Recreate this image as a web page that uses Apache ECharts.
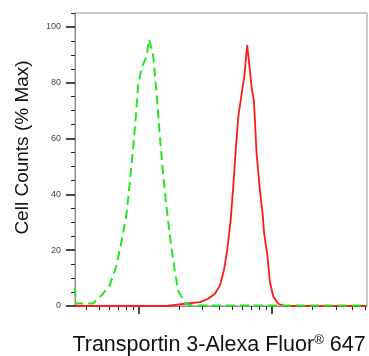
<!DOCTYPE html>
<html>
<head>
<meta charset="utf-8">
<script src="https://cdn.jsdelivr.net/npm/echarts@6/dist/echarts.min.js"></script>
<style>
  html, body { margin: 0; padding: 0; background: #fff; }
  #chart { width: 369px; height: 356px; }
</style>
</head>
<body>
<div id="chart"></div>
<script>
// fluorescence intensity (log scale) vs % of max
const xMin = 33;
const xMax = 5150;
const xMajorTicks = [100, 1000];
const xMinorTicks = [40, 50, 60, 70, 80, 90, 200, 300, 400, 500, 600, 700, 800, 900, 2000, 3000, 4000, 5000];
const yMajorTicks = [0, 20, 40, 60, 80, 100];
const yMinorTicks = [5, 10, 15, 25, 30, 35, 45, 50, 55, 65, 70, 75, 85, 90, 95, 105];

// isotype control (green dashed)
const controlData = [
  [33, 6.5], [33.5, 0.9], [39, 0.9], [45, 0.9], [53.6, 4.4], [60.2, 7.5], [67.6, 14.5],
  [73.7, 23], [80.4, 33], [85.1, 44], [90.1, 56.5], [94.4, 67.5], [98.3, 79], [104.2, 85],
  [113.7, 89.5], [118.9, 95.5], [121.8, 96], [127.4, 90], [135.1, 76.5], [143.1, 61],
  [151.5, 47.3], [160.7, 35.3], [172.2, 23.4], [185.5, 12.5], [196.4, 5.5], [220.7, 1.1],
  [247.7, 0.2], [5150, 0.2]
];

// Transportin 3 stained (red solid)
const stainedData = [
  [33, 0], [160.7, 0], [220.7, 0.8], [286, 1.4], [330, 2.6], [371, 4.4], [404.5, 7.3],
  [433, 12.7], [459, 19.9], [487, 30.6], [509, 42.5], [533.5, 56.8], [555, 67.5],
  [589, 76], [616, 82], [648.6, 93.5], [680, 84.3], [700, 78.3], [728.5, 73.5],
  [763, 54.5], [808, 41.5], [847, 33], [870, 25.8], [917, 18.7], [961, 8.5],
  [1017, 3.5], [1110, 0.8], [1246, 0], [5150, 0]
];

const chart = echarts.init(document.getElementById('chart'), null, { renderer: 'canvas' });

const fontFamily = '"Liberation Sans", Arial, sans-serif';

const option = {
  backgroundColor: '#fff',
  animation: false,
  grid: {
    left: 75, right: 2, top: 13, bottom: 50,
    show: true, borderColor: '#999', borderWidth: 1,
    outerBoundsMode: 'none'
  },
  xAxis: [
    {
      type: 'log', logBase: 10, min: xMin, max: xMax, position: 'bottom',
      axisLine: { lineStyle: { color: '#888', width: 1 } },
      axisTick: { customValues: xMajorTicks, length: 8, lineStyle: { color: '#111', width: 1.5 } },
      axisLabel: { show: false },
      splitLine: { show: false },
      minorSplitLine: { show: false }
    },
    {
      type: 'log', logBase: 10, min: xMin, max: xMax, position: 'bottom',
      axisLine: { show: false },
      axisTick: { customValues: xMinorTicks, length: 4, lineStyle: { color: '#222', width: 1 } },
      axisLabel: { show: false },
      splitLine: { show: false }
    }
  ],
  yAxis: [
    {
      type: 'value', min: 0, max: 105, position: 'left',
      axisLine: { show: true, lineStyle: { color: '#888', width: 1 } },
      axisTick: { show: true, customValues: yMajorTicks, length: 9, lineStyle: { color: '#111', width: 1.5 } },
      axisLabel: {
        customValues: yMajorTicks, margin: 14, color: '#444',
        fontSize: 9, fontFamily: fontFamily
      },
      splitLine: { show: false }
    },
    {
      type: 'value', min: 0, max: 105, position: 'left',
      axisLine: { show: false },
      axisTick: { show: true, customValues: yMinorTicks, length: 4, lineStyle: { color: '#222', width: 1 } },
      axisLabel: { show: false },
      splitLine: { show: false }
    }
  ],
  graphic: [
    {
      type: 'text', x: 22.5, y: 147.5, rotation: Math.PI / 2,
      style: {
        text: 'Cell Counts (% Max)', fill: '#111',
        font: '19px ' + fontFamily, align: 'center', verticalAlign: 'middle'
      }
    },
    {
      type: 'text', x: 219, y: 345,
      style: {
        text: '{a|Transportin 3-Alexa Fluor}{b|®}{a| 647}',
        fill: '#111', align: 'center', verticalAlign: 'middle',
        rich: {
          a: { fontSize: 21.5, fontFamily: fontFamily, fill: '#111' },
          b: { fontSize: 13, fontFamily: fontFamily, fill: '#111', verticalAlign: 'top' }
        }
      }
    }
  ],
  series: [
    {
      name: 'stained',
      type: 'line',
      data: stainedData,
      symbol: 'none',
      lineStyle: { color: '#ff1a1a', width: 1.8 },
      z: 2
    },
    {
      name: 'control',
      type: 'line',
      data: controlData,
      symbol: 'none',
      lineStyle: { color: '#22e622', width: 2, type: [9, 5] },
      z: 3
    }
  ]
};

chart.setOption(option);
</script>
</body>
</html>
